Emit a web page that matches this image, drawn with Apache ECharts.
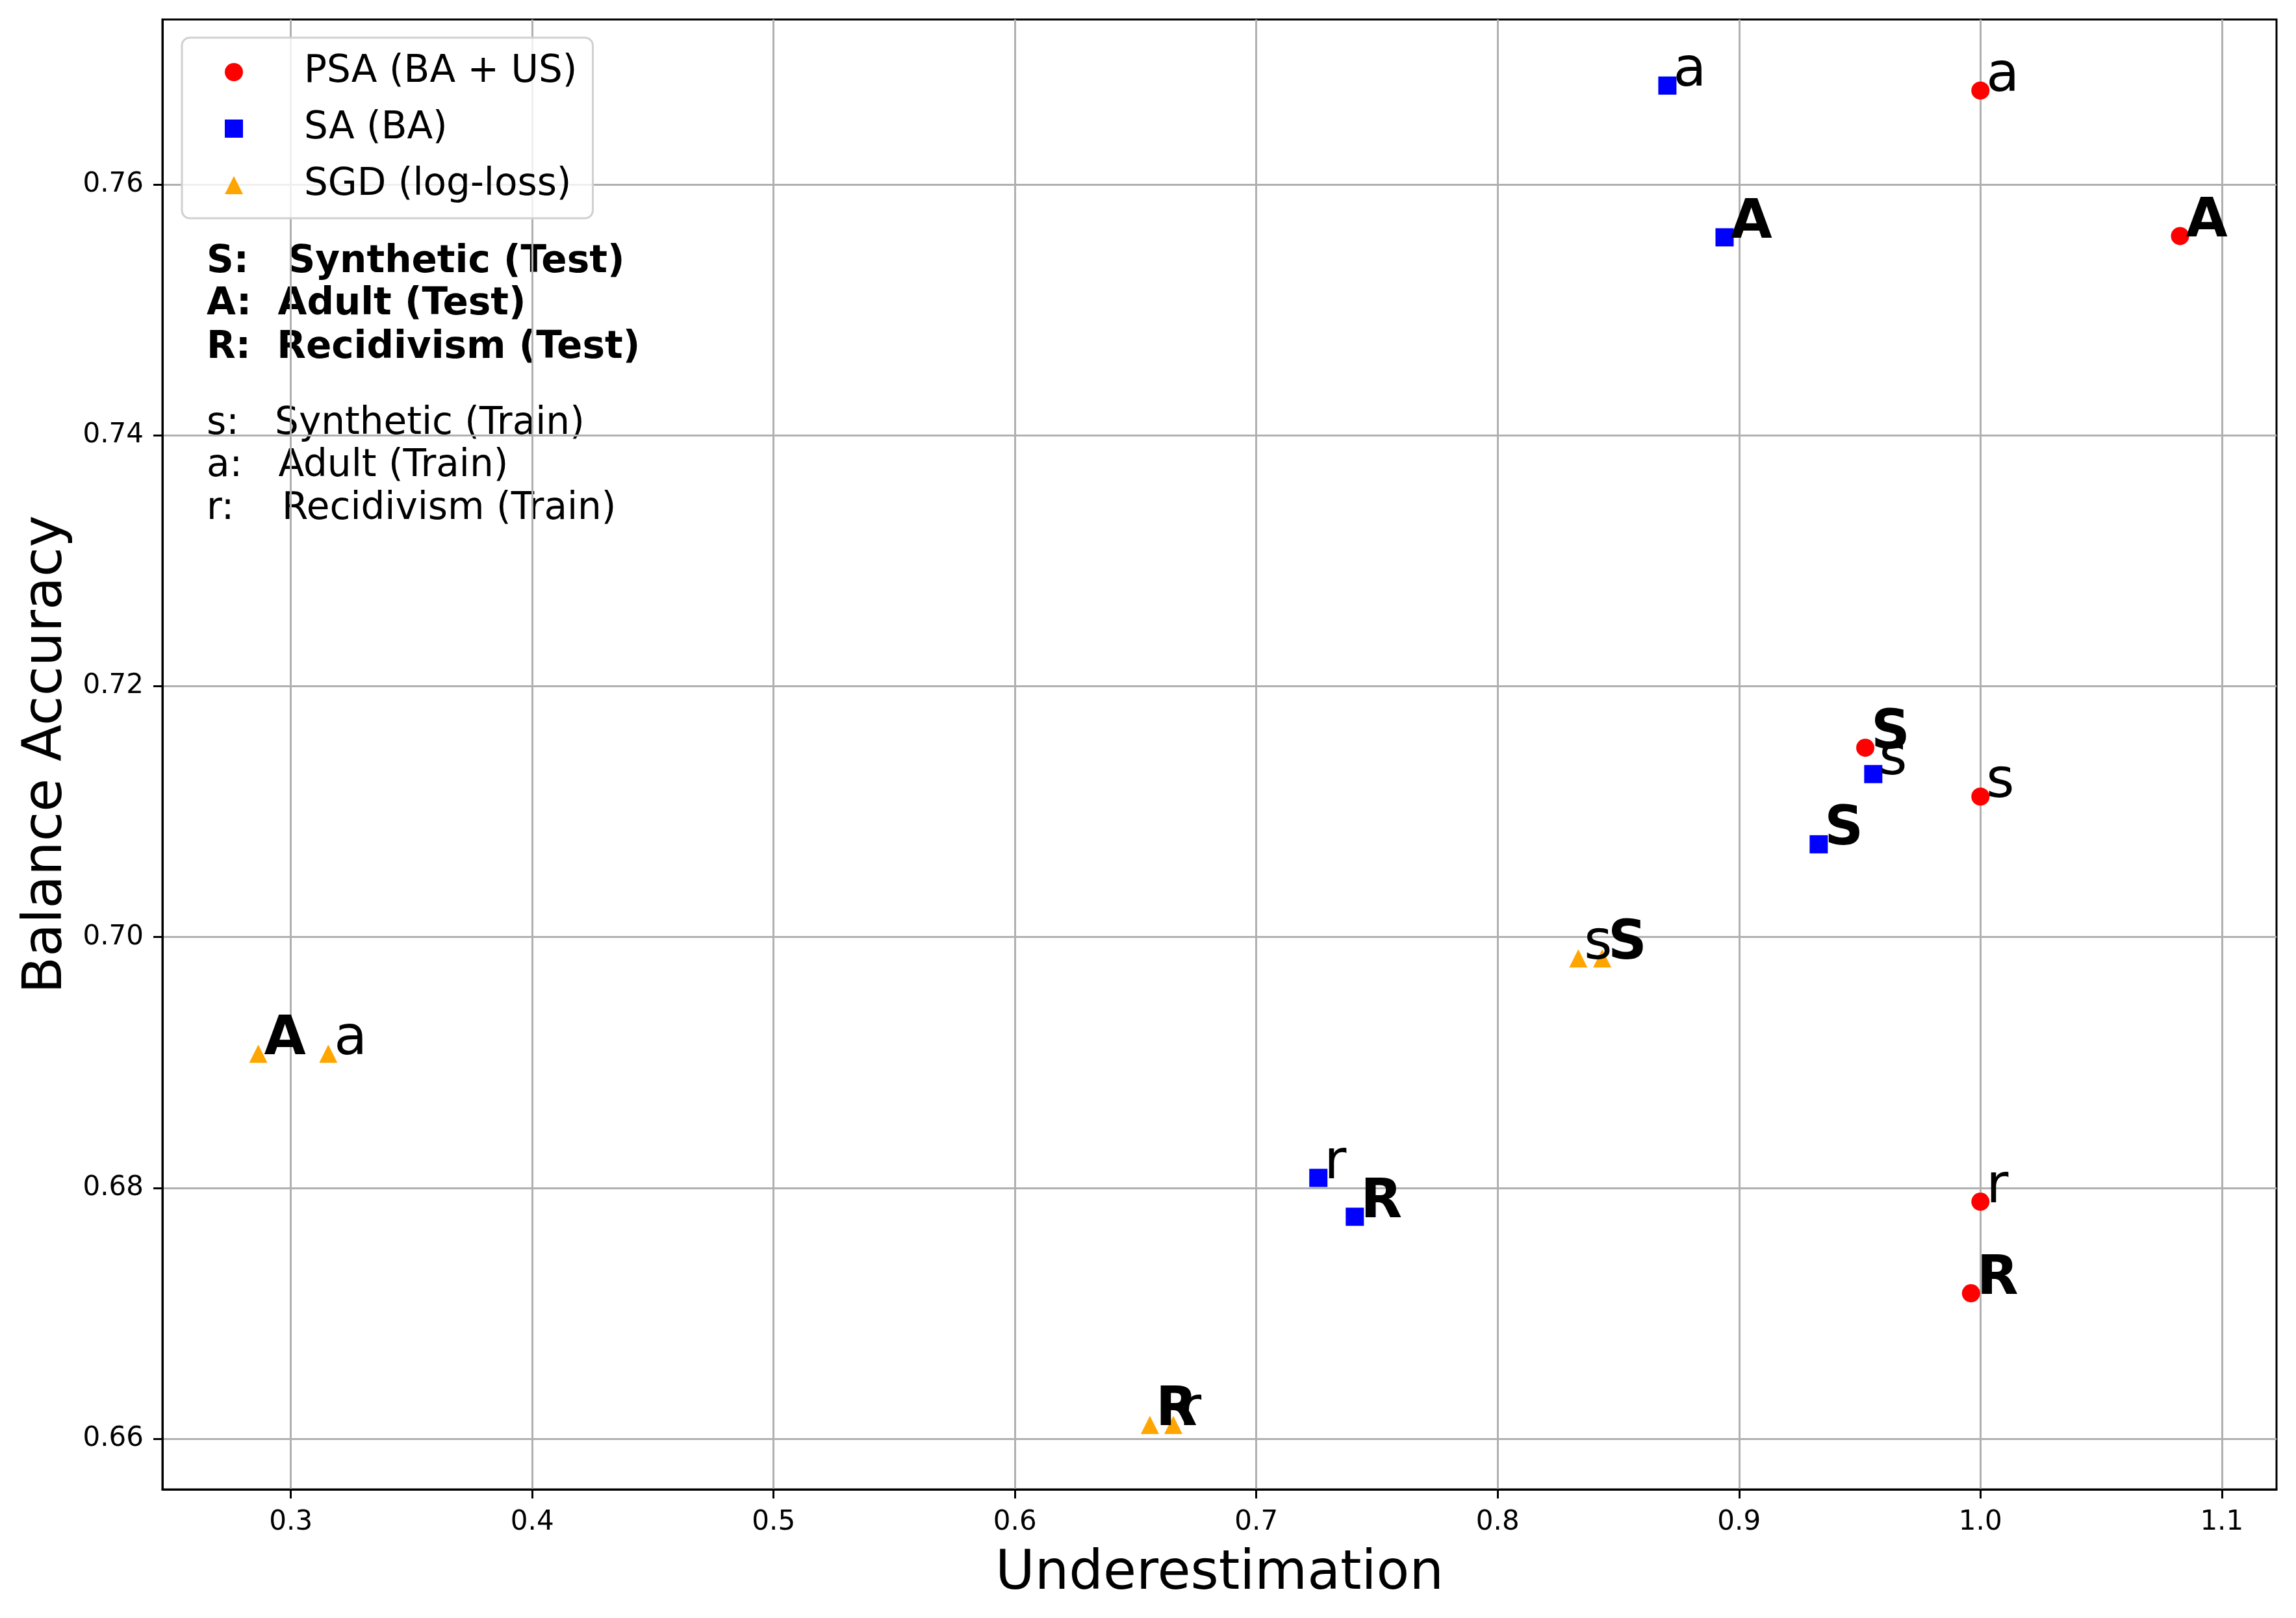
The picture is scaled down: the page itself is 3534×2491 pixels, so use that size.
<!DOCTYPE html>
<html>
<head>
<meta charset="utf-8">
<script src="https://cdn.jsdelivr.net/npm/echarts@6/dist/echarts.min.js"></script>
<style>html,body{margin:0;padding:0;background:#fff}#c{width:3534px;height:2491px}</style>
</head>
<body>
<div id="c"></div>
<script>
// ---- data ----
const seriesNames = ['PSA (BA + US)', 'SA (BA)', 'SGD (log-loss)'];
const psaLabels = ['a', 'A', 'S', 's', 'r', 'R'];
const psaX = [1.0, 1.0827, 0.9523, 1.0, 1.0, 0.9961];
const psaY = [0.7675, 0.7559, 0.7151, 0.7112, 0.6789, 0.6716];
const saLabels = ['a', 'A', 's', 'S', 'r', 'R'];
const saX = [0.8703, 0.8940, 0.9556, 0.9330, 0.7257, 0.7408];
const saY = [0.7679, 0.7558, 0.7130, 0.7074, 0.6808, 0.6777];
const sgdLabels = ['A', 'a', 's', 'S', 'r', 'R'];
const sgdX = [0.2865, 0.3155, 0.8334, 0.8433, 0.6656, 0.6559];
const sgdY = [0.6907, 0.6907, 0.6983, 0.6983, 0.6611, 0.6611];
const xTicks = [0.3, 0.4, 0.5, 0.6, 0.7, 0.8, 0.9, 1.0, 1.1];
const yTicks = [0.66, 0.68, 0.70, 0.72, 0.74, 0.76];
const testLines = ['S:   Synthetic (Test)', 'A:  Adult (Test)', 'R:  Recidivism (Test)'];
const trainLines = ['s:   Synthetic (Train)', 'a:   Adult (Train)', 'r:    Recidivism (Train)'];

const FONT = 'DejaVu Sans';

function makeData(xs, ys, labels) {
  return xs.map((x, i) => ({
    value: [x, ys[i]],
    name: labels[i],
    label: { fontWeight: labels[i] === labels[i].toUpperCase() ? 'bold' : 'normal' }
  }));
}

const labelOpt = {
  show: true,
  position: ['50%', '50%'],
  align: 'left',
  verticalAlign: 'middle',
  offset: [9, -21],
  formatter: '{b}',
  fontFamily: FONT,
  fontSize: 83,
  lineHeight: 83,
  color: '#000'
};

function mkSeries(name, symbol, color, xs, ys, labels) {
  return {
    name: name,
    type: 'scatter',
    symbol: symbol,
    symbolSize: 28,
    itemStyle: { color: color, opacity: 1 },
    label: labelOpt,
    emphasis: { disabled: true },
    data: makeData(xs, ys, labels)
  };
}

const graphics = [];
const testBaselines = [418.8, 484.2, 551.4];
const trainBaselines = [667.8, 733.2, 799.0];
testLines.forEach((t, i) => graphics.push({
  type: 'text', x: 318, y: testBaselines[i] - 15, silent: true,
  style: { text: t, fontFamily: FONT, fontSize: 58, fontWeight: 'bold', fill: '#000', align: 'left', verticalAlign: 'middle' }
}));
trainLines.forEach((t, i) => graphics.push({
  type: 'text', x: 318, y: trainBaselines[i] - 15, silent: true,
  style: { text: t, fontFamily: FONT, fontSize: 58, fontWeight: 'normal', fill: '#000', align: 'left', verticalAlign: 'middle' }
}));

const chart = echarts.init(document.getElementById('c'), null, { renderer: 'canvas' });
chart.setOption({
  animation: false,
  backgroundColor: '#ffffff',
  textStyle: { fontFamily: FONT },
  grid: {
    left: 250, top: 30, right: 30, bottom: 198,
    show: true, borderColor: '#000', borderWidth: 3, backgroundColor: '#ffffff',
    containLabel: false
  },
  legend: {
    orient: 'vertical',
    left: 280, top: 58,
    itemWidth: 28, itemHeight: 28, itemGap: 29,
    padding: [24, 24, 22, 66],
    backgroundColor: 'rgba(255,255,255,0.8)',
    borderColor: '#d0d0d0', borderWidth: 3, borderRadius: 12,
    selectedMode: false,
    data: seriesNames,
    formatter: name => '{pad| }{t|' + name + '}',
    textStyle: {
      fontFamily: FONT, fontSize: 58, color: '#000', lineHeight: 58,
      rich: {
        pad: { width: 89, fontSize: 58, lineHeight: 58 },
        t: { fontFamily: FONT, fontSize: 58, color: '#000', lineHeight: 58 }
      }
    }
  },
  xAxis: {
    type: 'value',
    min: 0.24678, max: 1.12267,
    minInterval: 0.1, maxInterval: 0.1,
    axisLine: { show: true, onZero: false, lineStyle: { color: '#000', width: 3 } },
    axisTick: { show: true, length: 14, customValues: xTicks, lineStyle: { color: '#000', width: 3 } },
    axisLabel: { customValues: xTicks, margin: 30, fontSize: 42, lineHeight: 42, color: '#000', fontFamily: FONT, formatter: v => v.toFixed(1) },
    splitLine: { show: true, lineStyle: { color: '#b0b0b0', width: 3 } },
    name: 'Underestimation', nameLocation: 'middle', nameGap: 90,
    nameTextStyle: { fontSize: 83, lineHeight: 83, fontFamily: FONT, color: '#000' }
  },
  yAxis: {
    type: 'value',
    min: 0.65596, max: 0.77317,
    minInterval: 0.02, maxInterval: 0.02,
    axisLine: { show: true, onZero: false, lineStyle: { color: '#000', width: 3 } },
    axisTick: { show: true, length: 14, customValues: yTicks, lineStyle: { color: '#000', width: 3 } },
    axisLabel: { customValues: yTicks, margin: 29, fontSize: 42, lineHeight: 42, color: '#000', fontFamily: FONT, formatter: v => v.toFixed(2) },
    splitLine: { show: true, lineStyle: { color: '#b0b0b0', width: 3 } },
    name: 'Balance Accuracy', nameLocation: 'middle', nameGap: 136, nameRotate: 90,
    nameTextStyle: { fontSize: 83, lineHeight: 83, fontFamily: FONT, color: '#000' }
  },
  graphic: graphics,
  series: [
    mkSeries(seriesNames[0], 'circle', '#ff0000', psaX, psaY, psaLabels),
    mkSeries(seriesNames[1], 'rect', '#0000ff', saX, saY, saLabels),
    mkSeries(seriesNames[2], 'triangle', '#ffa500', sgdX, sgdY, sgdLabels)
  ]
});
</script>
</body>
</html>
